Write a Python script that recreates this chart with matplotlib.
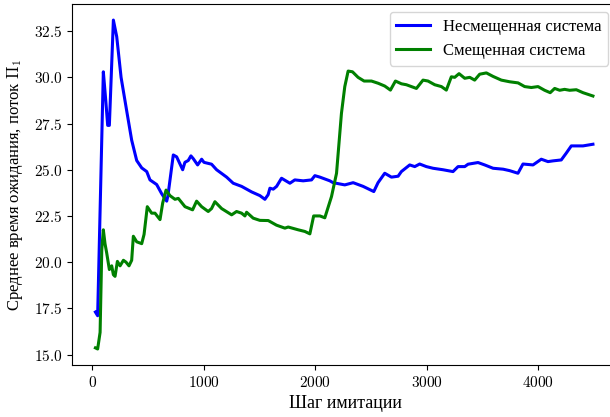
import matplotlib
matplotlib.use('Agg')
import matplotlib.pyplot as plt
from matplotlib.ticker import FuncFormatter

plt.rcParams['font.family'] = ['Liberation Serif', 'DejaVu Serif']
plt.rcParams['mathtext.fontset'] = 'cm'
plt.rcParams['font.size'] = 12

# несмещенная система
x_unb = [30, 50, 101, 122, 140, 155, 191, 221, 260, 310, 355, 400, 445, 490, 519, 579, 624,
         669, 680, 728, 758, 812, 832, 862, 886, 907, 946, 982, 1003, 1071, 1116, 1206, 1265,
         1340, 1430, 1504, 1549, 1578, 1594, 1624, 1654, 1698, 1773, 1817, 1892, 1967, 1997,
         2042, 2131, 2160, 2265, 2340, 2429, 2525, 2563, 2623, 2683, 2743, 2772, 2847, 2892,
         2936, 2996, 3056, 3145, 3235, 3280, 3340, 3370, 3459, 3519, 3594, 3684, 3743, 3817,
         3862, 3952, 4026, 4086, 4131, 4205, 4250, 4295, 4400, 4489]
y_unb = [17.3, 17.1, 30.3, 28.8, 27.4, 27.4, 33.1, 32.2, 30.0, 28.2, 26.6, 25.5, 25.1, 24.9,
         24.45, 24.2, 23.7, 23.3, 23.6, 25.8, 25.7, 25.0, 25.4, 25.5, 25.75, 25.6, 25.26, 25.57,
         25.4, 25.3, 25.0, 24.6, 24.27, 24.1, 23.8, 23.6, 23.4, 23.65, 24.0, 23.95, 24.1, 24.54,
         24.27, 24.45, 24.4, 24.45, 24.68, 24.6, 24.4, 24.3, 24.18, 24.3, 24.1, 23.82, 24.3,
         24.81, 24.6, 24.65, 24.9, 25.26, 25.17, 25.31, 25.17, 25.08, 25.0, 24.9, 25.17, 25.17,
         25.3, 25.39, 25.26, 25.08, 25.03, 24.95, 24.81, 25.31, 25.26, 25.57, 25.44, 25.48,
         25.53, 25.9, 26.29, 26.29, 26.38]

# смещенная система
x_sh = [30, 50, 72, 87, 101, 116, 131, 155, 176, 191, 206, 227, 251, 281, 304, 331, 355, 370,
        400, 445, 466, 495, 534, 564, 609, 633, 663, 698, 743, 773, 833, 901, 937, 982, 1041,
        1071, 1101, 1161, 1251, 1295, 1340, 1370, 1385, 1444, 1504, 1579, 1653, 1728, 1758,
        1847, 1907, 1952, 1986, 2042, 2086, 2146, 2191, 2235, 2265, 2295, 2334, 2384, 2438,
        2504, 2564, 2623, 2674, 2719, 2773, 2817, 2862, 2907, 2966, 3011, 3071, 3131, 3175,
        3220, 3250, 3289, 3340, 3385, 3429, 3474, 3534, 3594, 3668, 3743, 3818, 3877, 3937,
        3997, 4056, 4106, 4146, 4191, 4235, 4280, 4340, 4400, 4489]
y_sh = [15.36, 15.3, 16.2, 20.67, 21.75, 21.0, 20.5, 19.6, 19.8, 19.32, 19.23, 20.04, 19.8,
        20.1, 20.0, 19.8, 20.1, 21.4, 21.1, 21.0, 21.5, 23.0, 22.65, 22.65, 22.3, 23.2, 23.9,
        23.6, 23.4, 23.45, 23.0, 22.83, 23.3, 23.0, 22.74, 22.9, 23.27, 22.9, 22.56, 22.74,
        22.65, 22.5, 22.7, 22.38, 22.26, 22.25, 22.0, 21.84, 21.9, 21.75, 21.66, 21.53, 22.5,
        22.5, 22.4, 23.55, 24.81, 28.05, 29.5, 30.34, 30.3, 30.0, 29.8, 29.8, 29.68, 29.53,
        29.31, 29.8, 29.65, 29.6, 29.5, 29.4, 29.85, 29.8, 29.6, 29.5, 29.31, 30.03, 30.0, 30.2,
        29.95, 30.0, 29.85, 30.17, 30.24, 30.05, 29.85, 29.76, 29.7, 29.5, 29.45, 29.5, 29.3,
        29.17, 29.4, 29.3, 29.35, 29.3, 29.33, 29.17, 28.99]

fig = plt.figure(figsize=(6.1, 4.17), dpi=100)
ax = fig.add_axes([0.118, 0.125, 0.895, 0.865])

ax.plot(x_unb, y_unb, color='blue', lw=2.2, label='Несмещенная система')
ax.plot(x_sh, y_sh, color='green', lw=2.2, label='Смещенная система')

ax.set_xlim(-180, 4713)
ax.set_ylim(14.44, 33.96)
ax.set_yticks([15.0, 17.5, 20.0, 22.5, 25.0, 27.5, 30.0, 32.5])
ax.set_xticks([0, 1000, 2000, 3000, 4000])
ax.xaxis.set_major_formatter(FuncFormatter(lambda v, p: '$%d$' % v))
ax.yaxis.set_major_formatter(FuncFormatter(lambda v, p: '$%.1f$' % v))
ax.tick_params(labelsize=11)

ax.set_xlabel('Шаг имитации', fontsize=13)
ax.set_ylabel('Среднее время ожидания, поток $\\Pi_1$', labelpad=6)
ax.legend(loc='upper right', bbox_to_anchor=(0.982, 0.978), borderaxespad=0)

fig.savefig('out.png', dpi=100)
